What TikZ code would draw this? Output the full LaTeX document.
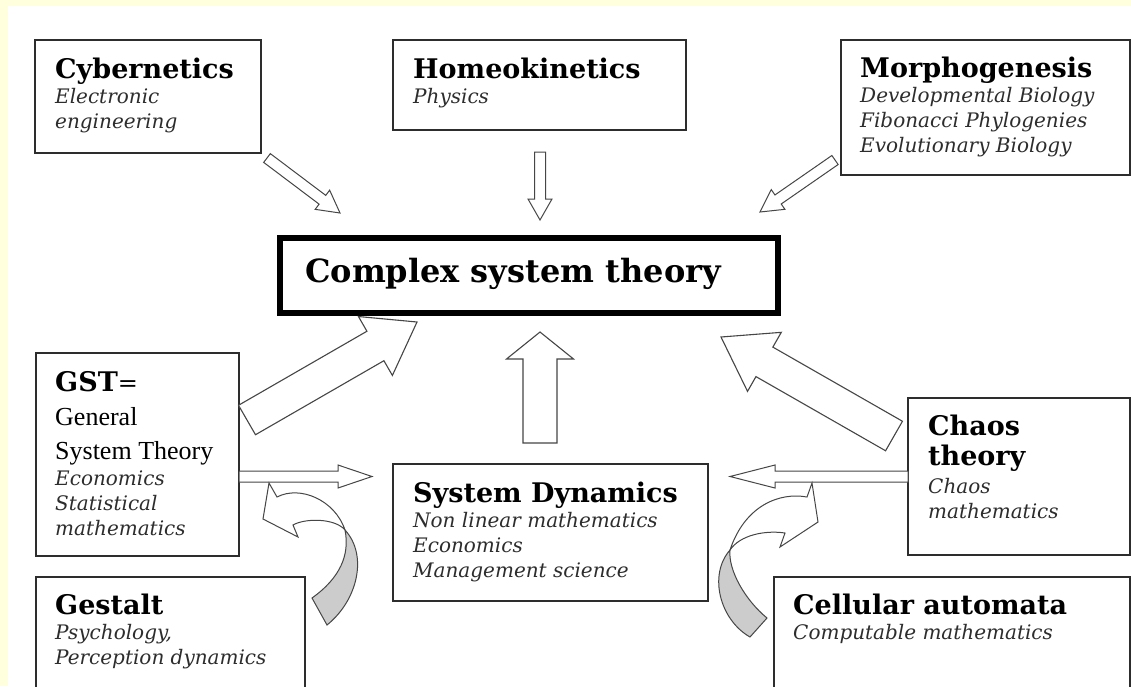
\documentclass[tikz,border=0pt]{standalone}
\usepackage{fontspec}
\setmainfont{DejaVu Serif}
\newfontfamily\timesfont{Liberation Serif}
\usetikzlibrary{calc}

\definecolor{paleyellow}{RGB}{255,255,221}
\definecolor{boxgray}{RGB}{45,45,45}
\definecolor{linegray}{RGB}{70,70,70}
\definecolor{subgray}{RGB}{45,45,45}
\definecolor{backgray}{RGB}{204,204,204}

% bold title line inside a box
\newcommand\boxtitle[1]{{\normalfont\bfseries\fontsize{27}{25}\selectfont\color{black}#1}}

% outlined block arrow: [style]{from}{to}{half shaft}{half head}{head length}
\newcommand\blockarrow[6][]{%
  \path ($(#3)!#6!(#2)$) coordinate (headbase);
  \draw[#1] ($(#2)!#4!90:(#3)$) -- ($(headbase)!#4!90:(#3)$)
    -- ($(headbase)!#5!90:(#3)$) -- (#3)
    -- ($(headbase)!#5!-90:(#3)$) -- ($(headbase)!#4!-90:(#3)$)
    -- ($(#2)!#4!-90:(#3)$) -- cycle;
}

\begin{document}
\begin{tikzpicture}[x=1pt,y=-1pt,
    box/.style={draw=boxgray,line width=1.8pt,anchor=north west,inner sep=0pt,outer sep=0pt},
    boxtext/.style={anchor=north west,align=left,inner sep=0pt,
      font=\itshape\fontsize{20}{25}\selectfont,text=subgray},
    thinarrow/.style={draw=linegray,line width=1pt,fill=white,line join=miter},
    fatarrow/.style={draw=linegray,line width=1.1pt,fill=white,line join=miter}]
   \useasboundingbox (0,0) rectangle (1131,686);
   % Yellow frame round the white sheet
   \fill[paleyellow] (0,0) rectangle (1131,686);
   \fill[white] (8,6) rectangle (1131,686);
   \clip (0,0) rectangle (1131,686);
   % Boxes
   \node[box,minimum width=226pt,minimum height=113pt] (cyber) at (35,40) {};
   \node[box,minimum width=293pt,minimum height=90pt] (homeo) at (393,40) {};
   \node[box,minimum width=289pt,minimum height=135pt] (morpho) at (841,40) {};
   \node[box,draw=black,line width=6pt,minimum width=498pt,minimum height=75pt] (cst) at (280,238) {};
   \node[box,minimum width=203pt,minimum height=203pt] (gst) at (36,353) {};
   \node[box,minimum width=315pt,minimum height=137pt] (sysdyn) at (393,464) {};
   \node[box,minimum width=222pt,minimum height=157pt] (chaos) at (908,398) {};
   \node[box,minimum width=269pt,minimum height=140pt] (gestalt) at (36,577) {};
   \node[box,minimum width=356pt,minimum height=140pt] (cellular) at (774,577) {};
   % Texts
   \node[boxtext] (cyber-txt) at ($(cyber.north west)+(20,18)$)
        {\boxtitle{Cybernetics}\\Electronic\\engineering};
   \node[boxtext] (homeo-txt) at ($(homeo.north west)+(20,18)$)
        {\boxtitle{Homeokinetics}\\Physics};
   \node[boxtext] (morpho-txt) at ($(morpho.north west)+(19,17)$)
        {\boxtitle{Morphogenesis}\\Developmental Biology\\Fibonacci Phylogenies\\Evolutionary Biology};
   \node[anchor=north west,inner sep=0pt,font=\bfseries\fontsize{32}{34}\selectfont] (cst-txt)
        at ($(cst.north west)+(25,20)$) {Complex system theory};
   \node[boxtext] (gst-txt) at ($(gst.north west)+(19,18)$)
        {\boxtitle{GST}{\normalfont\fontsize{24}{25}\selectfont\color{black}=}\\[9pt]
         {\normalfont\timesfont\fontsize{26}{34}\selectfont\color{black}General}\\[9pt]
         {\normalfont\timesfont\fontsize{26}{34}\selectfont\color{black}System Theory}\\[1pt]
         Economics\\Statistical\\mathematics};
   \node[boxtext] (sysdyn-txt) at ($(sysdyn.north west)+(20,18)$)
        {\boxtitle{System Dynamics}\\Non linear mathematics\\Economics\\Management science};
   \node[boxtext] (chaos-txt) at ($(chaos.north west)+(20,17)$)
        {\boxtitle{Chaos}\\[5pt]\boxtitle{theory}\\[3pt]Chaos\\mathematics};
   \node[boxtext] (gestalt-txt) at ($(gestalt.north west)+(19,17)$)
        {\boxtitle{Gestalt}\\Psychology,\\Perception dynamics};
   \node[boxtext] (cellular-txt) at ($(cellular.north west)+(19,17)$)
        {\boxtitle{Cellular automata}\\Computable mathematics};
   % Free ends of the arrows
   \coordinate (cyber-out) at ($(cyber.south east)+(6,5)$);
   \coordinate (cst-nw) at ($(cst.north west)+(60,-25)$);
   \coordinate (homeo-out) at ($(homeo.south)+(0.5,22)$);
   \coordinate (cst-n) at ($(homeo-out)+(0,68)$);
   \coordinate (morpho-out) at ($(morpho.south west)+(-6,-15)$);
   \coordinate (cst-ne) at ($(cst.north east)+(-18,-26)$);
   \coordinate (gst-out) at ($(gst.north east)+(8,67)$);
   \coordinate (cst-sw) at ($(cst.south west)+(137,9)$);
   \coordinate (sysdyn-out) at ($(sysdyn.north)+(-10.5,-21)$);
   \coordinate (cst-s) at ($(sysdyn-out)+(0,-111)$);
   \coordinate (chaos-out) at ($(chaos.north west)+(-14,38)$);
   \coordinate (cst-se) at ($(cst.south east)+(-57,24)$);
   \coordinate (gst-e) at ($(gst.east)+(0,22)$);
   \coordinate (sysdyn-w) at ($(gst-e -| sysdyn.west)+(-21,0)$);
   \coordinate (chaos-w) at (gst-e -| chaos.west);
   \coordinate (sysdyn-e) at ($(gst-e -| sysdyn.east)+(22,0)$);
   % Thin arrows into the main box
   \blockarrow[thinarrow]{cyber-out}{cst-nw}{5.5pt}{12pt}{22pt}
   \blockarrow[thinarrow]{homeo-out}{cst-n}{5.5pt}{12pt}{21pt}
   \blockarrow[thinarrow]{morpho-out}{cst-ne}{5.5pt}{12pt}{22pt}
   % Fat arrows into the main box
   \blockarrow[fatarrow]{gst-out}{cst-sw}{17pt}{34pt}{48pt}
   \blockarrow[fatarrow]{sysdyn-out}{cst-s}{17pt}{33.5pt}{27pt}
   \blockarrow[fatarrow]{chaos-out}{cst-se}{17pt}{34pt}{50pt}
   % Side arrows into System Dynamics
   \blockarrow[thinarrow]{gst-e}{sysdyn-w}{5.5pt}{11.5pt}{34pt}
   \blockarrow[thinarrow]{chaos-w}{sysdyn-e}{5.5pt}{11.5pt}{45pt}
   % Twisted arrow from Gestalt up to GST
   \draw[thinarrow,fill=backgray] (345,530) .. controls (368,555) and (358,600) .. (327,625)
        -- (312,598) .. controls (340,578) and (350,555) .. (345,530) -- cycle;
   \draw[thinarrow] (345,530) .. controls (335,500) and (300,485) .. (277,497)
        -- (269,483) -- (263,519) -- (298,537) -- (293,525)
        .. controls (305,518) and (335,518) .. (345,530) -- cycle;
   % Twisted arrow from Cellular automata up to Chaos theory
   \draw[thinarrow,fill=backgray] (730,550) .. controls (708,575) and (720,620) .. (750,637)
        -- (767,618) .. controls (745,600) and (728,570) .. (730,550) -- cycle;
   \draw[thinarrow] (730,550) .. controls (745,505) and (780,492) .. (807,497)
        -- (812,483) -- (818,522) -- (780,547) -- (785,533)
        .. controls (765,530) and (740,535) .. (730,550) -- cycle;
\end{tikzpicture}
\end{document}
